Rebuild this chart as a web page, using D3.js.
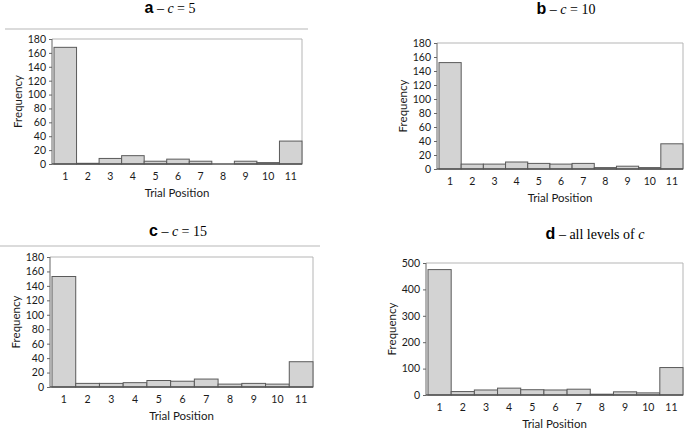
<!DOCTYPE html>
<html>
<head>
<meta charset="utf-8">
<script src="https://cdn.jsdelivr.net/npm/d3@7"></script>
<style>
  body { margin: 0; background: #fff; }
  svg { display: block; }
</style>
</head>
<body>
<script>
// chart data
var positions = ["1", "2", "3", "4", "5", "6", "7", "8", "9", "10", "11"];
var freqA = [168, 1, 8, 12, 4, 7, 4, 0, 4, 2, 33];
var freqB = [152, 7, 7, 10, 8, 7, 8, 2, 4, 2, 36];
var freqC = [153, 5, 5, 6, 9, 8, 11, 4, 5, 4, 35];
var freqD = [475, 13, 19, 26, 20, 19, 22, 3, 12, 8, 104];
var ticksSmall = [0, 20, 40, 60, 80, 100, 120, 140, 160, 180];
var ticksAll = [0, 100, 200, 300, 400, 500];

var w = 685, h = 430;

var svg = d3.select("body")
            .append("svg")
            .attr("width", w)
            .attr("height", h);

// one entry per panel (layout only, values come from the arrays above)
var panels = [
  {letter: "a", rest: "c = 5", values: freqA, ticks: ticksSmall, max: 180,
   tx: 170, ty: 13, sep: [5, 308, 29], x0: 52, x1: 302, y0: 39, y1: 164},
  {letter: "b", rest: "c = 10", values: freqB, ticks: ticksSmall, max: 180,
   tx: 566, ty: 14, sep: null, x0: 437, x1: 683, y0: 43, y1: 169},
  {letter: "c", rest: "c = 15", values: freqC, ticks: ticksSmall, max: 180,
   tx: 178, ty: 236, sep: [0, 320, 246], x0: 50, x1: 313, y0: 257, y1: 387},
  {letter: "d", rest: "all levels of c", values: freqD, ticks: ticksAll, max: 500,
   tx: 595, ty: 239, sep: null, x0: 426, x1: 683, y0: 263, y1: 395}
];

var labelFont = "Lato, Open Sans, sans-serif";

panels.forEach(function(p) {
    var g = svg.append("g");

    // title
    var t = g.append("text")
             .attr("x", p.tx)
             .attr("y", p.ty)
             .attr("text-anchor", "middle");
    t.append("tspan")
     .style("font-family", "Liberation Sans, Arial, sans-serif")
     .style("font-weight", "bold")
     .style("font-size", "16px")
     .text(p.letter);
    var s = t.append("tspan")
             .style("font-family", "Liberation Serif, Times New Roman, serif")
             .style("font-size", "14px");
    if (p.letter === "d") {
        s.text(" \u2013 all levels of ");
        t.append("tspan")
         .style("font-family", "Liberation Serif, serif")
         .style("font-size", "14px")
         .style("font-style", "italic")
         .text("c");
    } else {
        s.text(" \u2013 ");
        s.append("tspan").style("font-style", "italic").text("c");
        s.append("tspan").text(" = " + p.rest.split("= ")[1]);
    }

    if (p.sep) {
        g.append("line")
         .attr("x1", p.sep[0]).attr("x2", p.sep[1])
         .attr("y1", p.sep[2]).attr("y2", p.sep[2])
         .attr("stroke", "#cfcfcf")
         .attr("stroke-width", 1.5);
    }

    var x = d3.scaleBand()
              .domain(positions)
              .range([p.x0 + 2, p.x1])
              .padding(0);

    var y = d3.scaleLinear()
              .domain([0, p.max])
              .range([p.y1, p.y0]);

    // plot frame (top and right)
    g.append("path")
     .attr("d", "M" + p.x0 + "," + p.y0 + "H" + p.x1 + "V" + p.y1)
     .attr("fill", "none")
     .attr("stroke", "#b5b5b5")
     .attr("stroke-width", 1);

    // bars
    g.selectAll("rect.bar")
     .data(p.values)
     .enter()
     .append("rect")
     .attr("class", "bar")
     .attr("x", function(d, i) { return x(positions[i]); })
     .attr("y", function(d) { return y(d); })
     .attr("width", x.bandwidth())
     .attr("height", function(d) { return p.y1 - y(d); })
     .attr("fill", "#d3d3d3")
     .attr("stroke", "#5a5a5a")
     .attr("stroke-width", 1);

    // y axis
    var yAxis = d3.axisLeft(y)
                  .tickValues(p.ticks)
                  .tickSize(3)
                  .tickPadding(3);
    var ya = g.append("g")
              .attr("transform", "translate(" + p.x0 + ",0)")
              .call(yAxis);
    ya.select(".domain").attr("stroke", "#666").attr("d", "M0," + p.y1 + "V" + p.y0);
    ya.selectAll(".tick line").attr("stroke", "#666");
    ya.selectAll("text")
      .style("font-family", labelFont)
      .style("font-size", "10.5px")
      .attr("fill", "#1a1a1a");

    // x axis
    var xAxis = d3.axisBottom(x).tickSize(0).tickPadding(9);
    var xa = g.append("g")
              .attr("transform", "translate(0," + p.y1 + ")")
              .call(xAxis);
    xa.select(".domain")
      .attr("stroke", "#555")
      .attr("stroke-width", 1.5)
      .attr("d", "M" + p.x0 + ",0H" + p.x1);
    xa.selectAll("text")
      .style("font-family", labelFont)
      .style("font-size", "10.5px")
      .attr("fill", "#1a1a1a");

    // axis titles
    g.append("text")
     .attr("x", (p.x0 + p.x1) / 2)
     .attr("y", p.y1 + 33)
     .attr("text-anchor", "middle")
     .style("font-family", labelFont)
     .style("font-size", "11.5px")
     .attr("fill", "#1a1a1a")
     .text("Trial Position");

    g.append("text")
     .attr("transform", "translate(" + (p.x0 - 30) + "," + ((p.y0 + p.y1) / 2) + ") rotate(-90)")
     .attr("text-anchor", "middle")
     .style("font-family", labelFont)
     .style("font-size", "11.5px")
     .attr("fill", "#1a1a1a")
     .text("Frequency");
});
</script>
</body>
</html>
